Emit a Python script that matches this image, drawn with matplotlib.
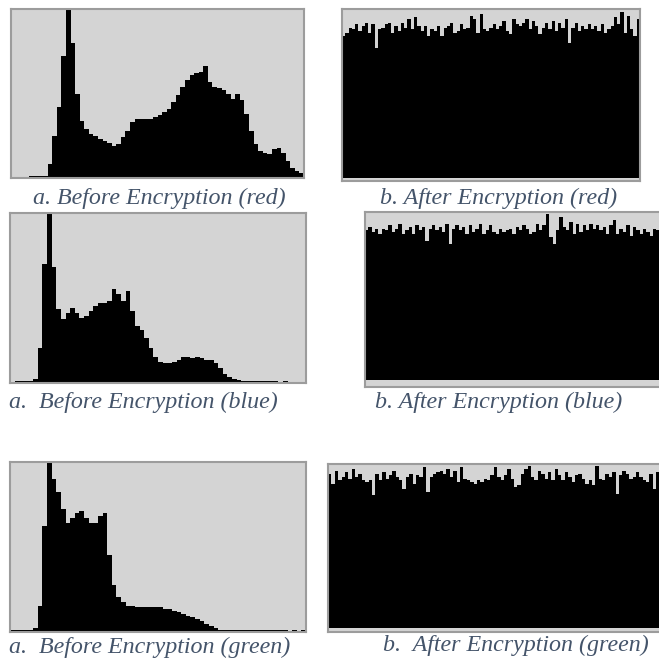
import numpy as np
import matplotlib

matplotlib.use("Agg")
import matplotlib.pyplot as plt

red_before = [0, 0, 0, 0.5, 1, 1, 1, 1, 8, 25, 42, 72, 100, 80, 50, 34,
              29, 26, 25, 23, 22, 21, 19, 20, 24, 28, 33, 35, 35, 35, 35, 36,
              37, 39, 41, 45, 49, 54, 58, 61, 62, 63, 66, 57, 54, 53, 52, 50,
              47, 50, 46, 38, 28, 20, 16, 15, 14, 17, 18, 15, 10, 6, 4, 3]

blue_before = [0, 0.5, 0.5, 0.5, 0.5, 2, 20, 70, 100, 68, 43, 37, 41, 44, 41, 38,
               39, 42, 45, 47, 47, 48, 55, 52, 48, 54, 42, 33, 31, 26, 20, 15,
               12, 11, 11, 12, 13, 15, 15, 14, 15, 14, 13, 13, 11, 8, 5, 3,
               2, 1, 0.6, 0.6, 0.6, 0.6, 0.6, 0.6, 0.3, 0.5, 0, 0.5, 0, 0, 0, 0]

green_before = [0.5, 0.8, 0.8, 0.8, 0.8, 2, 15, 62, 100, 90, 82, 72, 64, 67, 70, 71,
                67, 64, 64, 68, 70, 45, 27, 20, 17, 15, 15, 14, 14, 14, 14, 14,
                14, 13, 13, 12, 11, 10, 9, 8, 7, 6, 4, 3, 2, 0.8, 0.8, 0.8,
                0.8, 0.8, 0.8, 0.8, 0.8, 0.8, 0.8, 0.8, 0.4, 0.3, 0.3, 0.3, 0, 0.3, 0, 0.3]

red_after = [84, 86, 89, 88, 91, 87, 90, 92, 86, 91, 77, 88, 89, 91, 92, 86,
             90, 87, 92, 89, 94, 88, 95, 90, 87, 90, 84, 88, 87, 90, 84, 89,
             90, 92, 86, 87, 91, 88, 89, 96, 94, 86, 97, 88, 87, 89, 91, 88,
             90, 93, 87, 85, 94, 91, 90, 92, 94, 88, 93, 90, 85, 89, 92, 88,
             93, 87, 92, 89, 94, 80, 89, 92, 87, 90, 88, 91, 88, 90, 87, 91,
             86, 88, 90, 95, 91, 98, 86, 96, 88, 84, 94]

blue_after = [89, 91, 88, 90, 87, 90, 89, 92, 88, 90, 93, 87, 89, 91, 87, 92,
              89, 91, 83, 90, 92, 89, 91, 88, 93, 81, 90, 92, 89, 91, 87, 92,
              88, 90, 93, 87, 89, 92, 88, 87, 90, 88, 89, 90, 87, 91, 89, 92,
              90, 87, 88, 93, 89, 92, 99, 85, 81, 89, 97, 91, 89, 94, 87, 93,
              88, 92, 89, 93, 90, 92, 89, 91, 87, 92, 95, 87, 90, 88, 92, 86,
              91, 89, 87, 90, 88, 86, 90, 89, 91]

green_after = [94, 88, 96, 90, 92, 95, 91, 97, 92, 94, 90, 89, 90, 81, 94, 90,
               95, 91, 93, 96, 92, 90, 85, 92, 94, 88, 93, 92, 98, 83, 92, 94,
               95, 96, 94, 97, 92, 96, 89, 98, 91, 90, 89, 88, 90, 89, 91, 90,
               93, 98, 92, 90, 93, 97, 91, 86, 87, 94, 97, 99, 92, 90, 96, 94,
               91, 95, 90, 97, 93, 90, 95, 92, 89, 93, 94, 91, 88, 90, 87, 99,
               91, 90, 94, 92, 95, 82, 93, 96, 94, 91, 92, 95, 92, 90, 89, 94,
               85, 95, 92]

captions = [
    "a. Before Encryption (red)", "b. After Encryption (red)",
    "a.  Before Encryption (blue)", "b. After Encryption (blue)",
    "a.  Before Encryption (green)", "b.  After Encryption (green)",
]

W, H = 659, 658
fig = plt.figure(figsize=(W / 100, H / 100), dpi=100)

# (values, box in pixels: left, top, right, bottom, y-floor)
panels = [
    (red_before, (11, 9, 304, 178), 0),
    (red_after, (342, 9, 640, 181), -1.8),
    (blue_before, (10, 213, 306, 383), -0.6),
    (blue_after, (365, 212, 663, 387), -4.2),
    (green_before, (10, 462, 306, 632), -0.6),
    (green_after, (328, 464, 663, 632), -2.4),
]

for values, (l, t, r, b), floor in panels:
    ax = fig.add_axes([l / W, 1 - b / H, (r - l) / W, (b - t) / H])
    ax.stairs(values, np.arange(len(values) + 1), fill=True, color="black",
              baseline=0)
    ax.set_xlim(0, len(values))
    ax.set_ylim(floor, 100)
    ax.set_facecolor("#d4d4d4")
    ax.set_xticks([])
    ax.set_yticks([])
    for s in ax.spines.values():
        s.set_color("#9c9c9c")
        s.set_linewidth(1.5)

# caption left edge and baseline, in pixels
cap_pos = [(33, 204), (380, 204), (9, 408), (375, 408), (9, 653), (383, 651)]
for text, (x, y) in zip(captions, cap_pos):
    fig.text(x / W, 1 - y / H, text, ha="left", va="baseline",
             family="Liberation Serif", style="italic", fontsize=17.3,
             color="#44546a")

fig.savefig("out.png", dpi=100)
